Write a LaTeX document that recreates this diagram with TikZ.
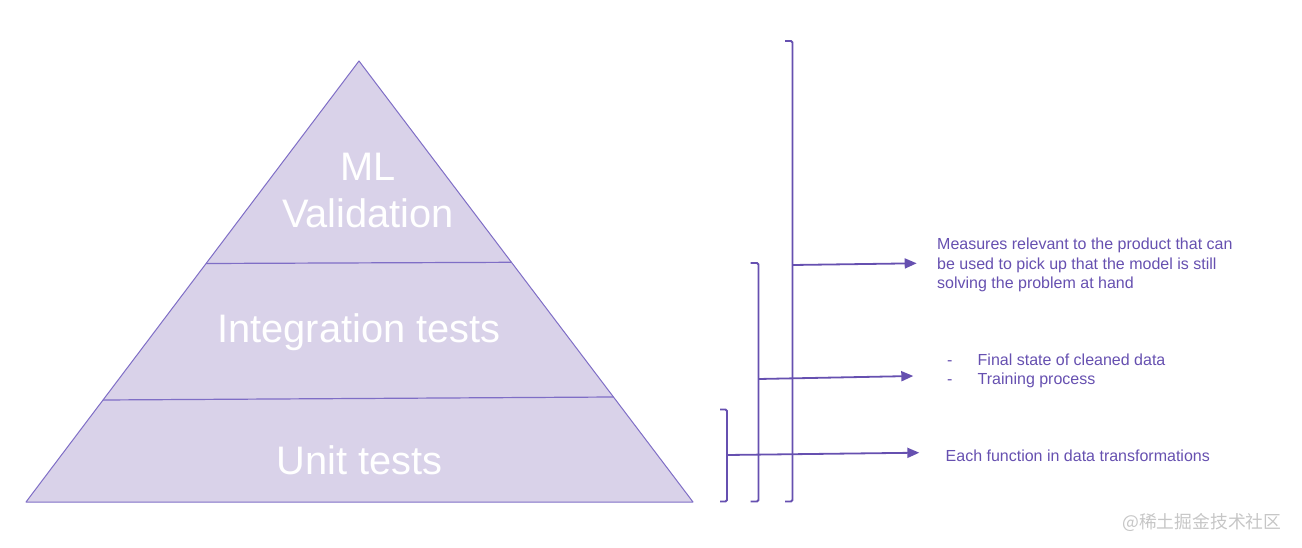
\documentclass[tikz,border=0pt]{standalone}
\usepackage{fontspec}
\setmainfont{Liberation Sans}
\newfontfamily\cjk{Noto Sans CJK SC}
\usetikzlibrary{arrows.meta}
\definecolor{purp}{HTML}{6650B0}
\definecolor{pfill}{HTML}{D9D2E9}
\definecolor{pedge}{HTML}{7F6EC6}
\begin{document}
\begin{tikzpicture}[x=1pt,y=-1pt,
  layertext/.style={text=white,font=\fontsize{39.8}{47}\selectfont,inner sep=0pt,anchor=base},
  note/.style={text=purp,font=\fontsize{16}{19.5}\selectfont,inner sep=0pt,anchor=west,align=left},
  bracket/.style={draw=purp,line width=1.8pt,rounded corners=1.5pt},
  link/.style={draw=purp,line width=1.8pt,-{Triangle[length=12pt,width=10pt]}},
  divider/.style={draw=pedge,line width=1.2pt}]
\useasboundingbox (0,0) rectangle (1302,548);
% pyramid
\coordinate (apex) at (359,61);
\coordinate (bl) at (26,502);
\coordinate (br) at (693,502);
\fill[pfill] (apex) -- (br) -- (bl) -- cycle;
\coordinate (d1l) at (206.1,263.5);
\coordinate (d1r) at (511.5,262.3);
\coordinate (d2l) at (103,400);
\coordinate (d2r) at (613.5,397);
\draw[divider] (d1l) -- (d1r);
\draw[divider] (d2l) -- (d2r);
\draw[pedge,line width=1pt,line join=round] (apex) -- (br) -- (bl) -- cycle;
\node[layertext] (ml) at (368,181) {ML};
\node[layertext] (val) at (368,228) {Validation};
\node[layertext] (integ) at (359,342) {Integration tests};
\node[layertext] (unit) at (359.5,474) {Unit tests};
% brackets
\draw[bracket] (785,41) -- (792.5,41) -- (792.5,501.5) -- (785,501.5);
\draw[bracket] (750.5,263) -- (758.5,263) -- (758.5,501.5) -- (750.5,501.5);
\draw[bracket] (720,409.5) -- (727,409.5) -- (727,501.5) -- (720,501.5);
\coordinate (b1) at (792.5,265);
\coordinate (b2) at (758.5,379);
\coordinate (b3) at (727,455);
\coordinate (t1) at (916.7,263.3);
\coordinate (t2) at (913.3,376);
\coordinate (t3) at (919.3,452.7);
\draw[link] (b1) -- (t1);
\draw[link] (b2) -- (t2);
\draw[link] (b3) -- (t3);
% notes
\node[note] (n1) at (937,265) {Measures relevant to the product that can\\be used to pick up that the model is still\\solving the problem at hand};
\node[note] (n2) at (947,371) {\makebox[30.5pt][l]{-}Final state of cleaned data\\\makebox[30.5pt][l]{-}Training process};
\node[note] (n3) at (945.5,455.5) {Each function in data transformations};
\node[text=gray!45,font=\cjk\fontsize{17.8}{20}\selectfont,anchor=west,inner sep=0pt] (wm) at (1122,522) {@稀土掘金技术社区};
\end{tikzpicture}
\end{document}
